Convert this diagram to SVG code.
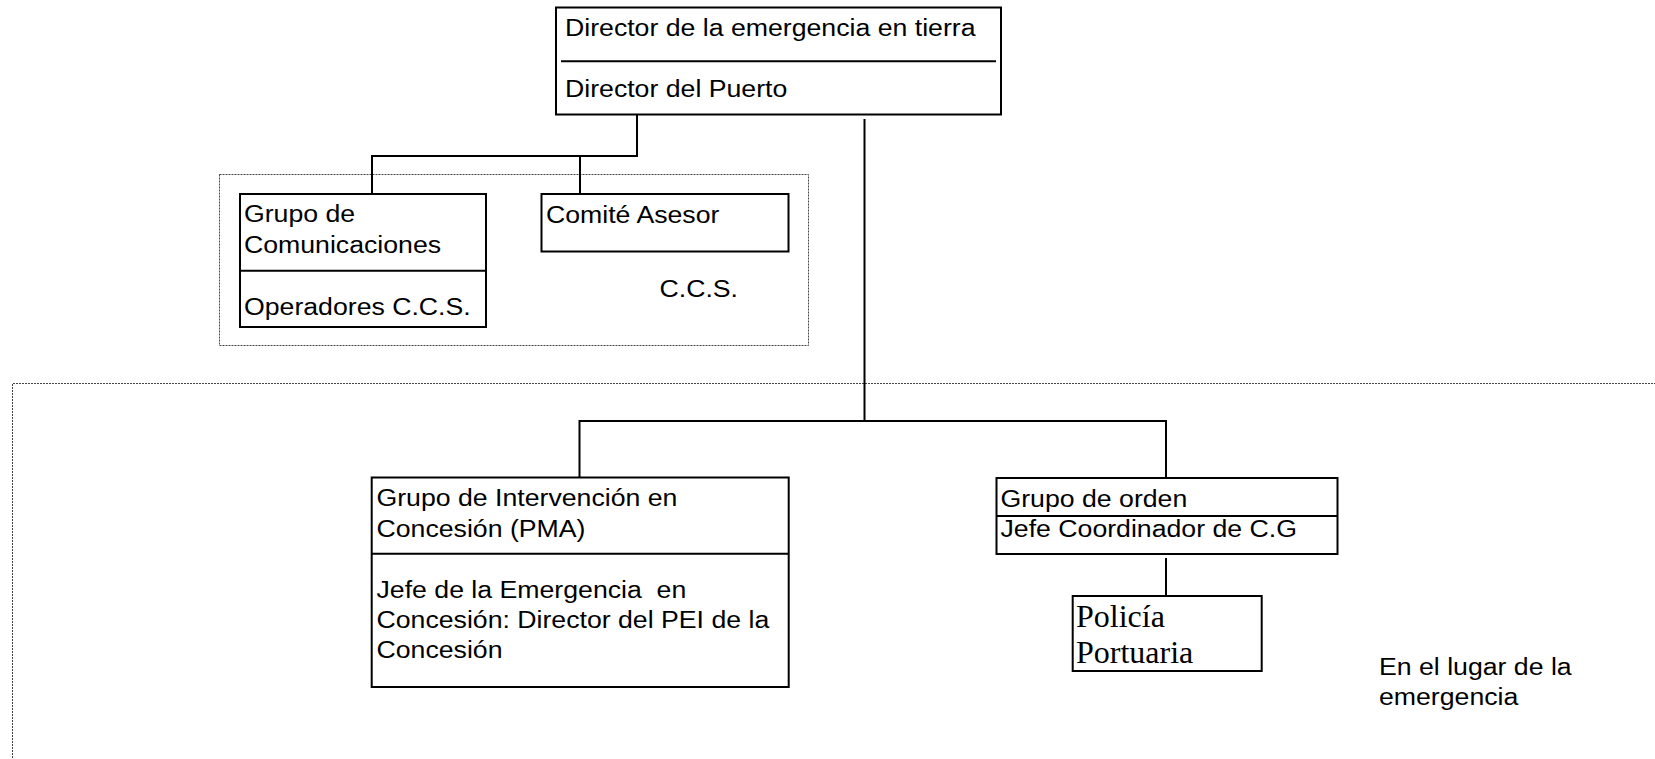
<svg xmlns="http://www.w3.org/2000/svg" width="1655" height="759" viewBox="0 0 1655 759">
<style>
.box{fill:#fff;stroke:#000;stroke-width:2}
.div{stroke:#000;stroke-width:2;fill:none}
.con{stroke:#000;stroke-width:2;fill:none}
.dot{fill:none;stroke:#444;stroke-width:1;stroke-dasharray:2 1}
.t{font-family:"Liberation Sans",Arial,sans-serif;font-size:23px;fill:#000}
.s{font-family:"Liberation Serif","Times New Roman",serif;font-size:32px;fill:#000}
</style>
<rect width="1655" height="759" fill="#fff"/>
<g id="zones">
<rect class="dot" x="219.5" y="174.5" width="589" height="171"/>
<path class="dot" d="M1656 383.5 H12.5 V760"/>
</g>
<g id="connectors">
<path class="con" d="M637 115 V156 H372 V194 M580 156 V194"/>
<path class="con" d="M864.5 119 V421 M579.5 421 H1166 M579.5 420 V478 M1166 420 V478"/>
<path class="con" d="M1166 558 V596"/>
</g>
<g id="director">
<rect class="box" x="556" y="7.5" width="445" height="107"/>
<line class="div" x1="561" y1="61.3" x2="996" y2="61.3"/>
<text class="t" transform="translate(565 36) scale(1.16 1)">Director de la emergencia en tierra</text>
<text class="t" transform="translate(565 97) scale(1.16 1)">Director del Puerto</text>
</g>
<g id="comunicaciones">
<rect class="box" x="240" y="194" width="246" height="133"/>
<line class="div" x1="240" y1="270.7" x2="486" y2="270.7"/>
<text class="t" transform="translate(244 222) scale(1.16 1)">Grupo de</text>
<text class="t" transform="translate(244 253) scale(1.16 1)">Comunicaciones</text>
<text class="t" transform="translate(244 315) scale(1.16 1)">Operadores C.C.S.</text>
</g>
<g id="comite">
<rect class="box" x="541.5" y="194" width="247" height="57.5"/>
<text class="t" transform="translate(546 222.5) scale(1.16 1)">Comité Asesor</text>
</g>
<g id="ccs-label">
<text class="t" transform="translate(659.5 296.5) scale(1.16 1)">C.C.S.</text>
</g>
<g id="intervencion">
<rect class="box" x="371.7" y="477.5" width="417" height="209.5"/>
<line class="div" x1="371.7" y1="553.7" x2="788.7" y2="553.7"/>
<text class="t" transform="translate(376.5 506) scale(1.16 1)">Grupo de Intervención en</text>
<text class="t" transform="translate(376.5 536.5) scale(1.16 1)">Concesión (PMA)</text>
<text class="t" transform="translate(376.5 598) scale(1.16 1)" xml:space="preserve">Jefe de la Emergencia  en</text>
<text class="t" transform="translate(376.5 628) scale(1.16 1)">Concesión: Director del PEI de la</text>
<text class="t" transform="translate(376.5 658) scale(1.16 1)">Concesión</text>
</g>
<g id="orden">
<rect class="box" x="996.5" y="478" width="341" height="76"/>
<line class="div" x1="996.5" y1="516" x2="1337.5" y2="516"/>
<text class="t" transform="translate(1000.5 506.5) scale(1.16 1)">Grupo de orden</text>
<text class="t" transform="translate(1000.5 536.5) scale(1.16 1)">Jefe Coordinador de C.G</text>
</g>
<g id="policia">
<rect class="box" x="1072.7" y="596" width="189" height="75"/>
<text class="s" x="1076" y="627.3">Policía</text>
<text class="s" x="1076" y="662.7">Portuaria</text>
</g>
<g id="lugar-label">
<text class="t" transform="translate(1379 675) scale(1.16 1)">En el lugar de la</text>
<text class="t" transform="translate(1379 705) scale(1.16 1)">emergencia</text>
</g>
</svg>
